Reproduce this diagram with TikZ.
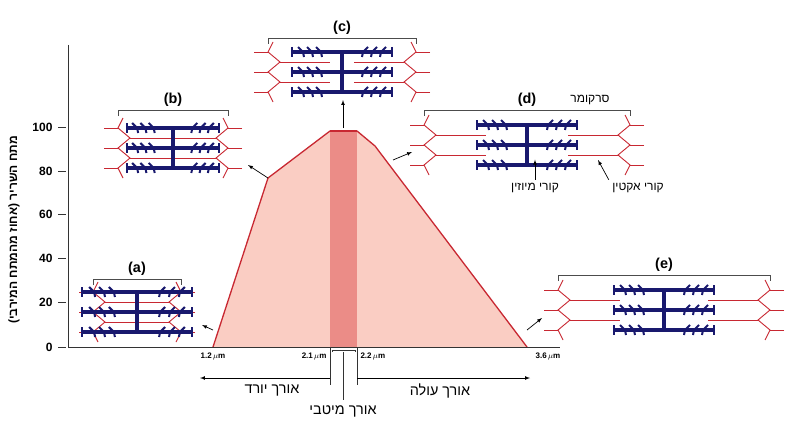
\documentclass[tikz,border=0pt]{standalone}
\usepackage{fontspec}
\setmainfont{Liberation Sans}
\newfontfamily\hebfont[Script=Hebrew]{Liberation Sans}
\TeXXeTstate=1
\definecolor{myosin}{RGB}{25,25,110}
\definecolor{actin}{RGB}{200,40,50}
\definecolor{fillpink}{RGB}{250,205,195}
\definecolor{bandpink}{RGB}{235,140,135}
\newcommand{\heb}[1]{{\hebfont\beginR #1\endR}}
% sarcomere: center x, center y, Z half-distance, myosin half-length, bracket y, label, name
\newcommand{\sarc}[7]{%
  % Z lines
  \draw[actinline] (#1-#3+5,#2-30) -- (#1-#3,#2-20) -- (#1-#3+12,#2-10) -- (#1-#3,#2) -- (#1-#3+12,#2+10) -- (#1-#3,#2+20) -- (#1-#3+5,#2+30);
  \draw[actinline] (#1+#3-5,#2-30) -- (#1+#3,#2-20) -- (#1+#3-12,#2-10) -- (#1+#3,#2) -- (#1+#3-12,#2+10) -- (#1+#3,#2+20) -- (#1+#3-5,#2+30);
  \foreach \dy in {-20,0,20}{
    \draw[actinline] (#1-#3-14,#2+\dy) -- (#1-#3,#2+\dy);
    \draw[actinline] (#1+#3+14,#2+\dy) -- (#1+#3,#2+\dy);
  }
  % actin
  \foreach \dy in {-10,10}{
    \draw[actinline] (#1-#3+12,#2+\dy) -- ++(50,0);
    \draw[actinline] (#1+#3-12,#2+\dy) -- ++(-50,0);
  }
  % myosin
  \foreach \dy in {-20,0,20}{
    \draw[thickfil] (#1-#4,#2+\dy) -- (#1+#4,#2+\dy);
    \draw[headfil] (#1-#4,#2+\dy-5) -- (#1-#4,#2+\dy+5) (#1+#4,#2+\dy-5) -- (#1+#4,#2+\dy+5);
    \foreach \k in {0.42,0.6,0.78}{
      \draw[headfil] (#1-\k*#4-5,#2+\dy-5) -- (#1-\k*#4,#2+\dy) -- (#1-\k*#4+1,#2+\dy+5);
      \draw[headfil] (#1+\k*#4+5,#2+\dy-5) -- (#1+\k*#4,#2+\dy) -- (#1+\k*#4-1,#2+\dy+5);
    }
  }
  \draw[thickfil] (#1,#2-20) -- (#1,#2+20);
  \draw[bracket] (#1-#3,#5+6) -- (#1-#3,#5) -- (#1+#3,#5) -- (#1+#3,#5+6);
  \node[tag] (#7) at (#1,#5-10) {#6};
}
\begin{document}
\begin{tikzpicture}[x=1pt,y=-1pt,
  actinline/.style={draw=actin,line width=0.9pt},
  thickfil/.style={draw=myosin,line width=3.4pt},
  headfil/.style={draw=myosin,line width=2pt},
  bracket/.style={draw=black!70,line width=0.6pt},
  tag/.style={font=\bfseries\Large},
  tick/.style={font=\bfseries\large,anchor=east},
  umlab/.style={font=\bfseries\footnotesize},
  hlab/.style={font=\large},
  pointer/.style={-latex,line width=0.7pt}]
\useasboundingbox (0,0) rectangle (799,428);
\fill[white] (0,0) rectangle (799,428);

% curve area
\filldraw[fill=fillpink,draw=actin,line width=1.3pt]
  (213,347) -- (268,178) -- (330,131) -- (357,131) -- (375,146) -- (527,347);
\fill[bandpink] (330,131) rectangle (357,347);
\draw[actin,line width=1.3pt] (330,131) -- (357,131);

% axes
\draw[black!80,line width=0.8pt] (68,45) -- (68,347) -- (560,347);
\foreach \v/\yy in {0/347,20/302,40/258,60/214,80/171,100/127}{
  \draw[black!80,line width=0.8pt] (58,\yy) -- (66,\yy);
  \node[tick] (t\v) at (56,\yy) {\v};
}
\node[rotate=90,font=\bfseries\large] (ylab) at (14,230) {\heb{מתח השריר (אחוז מהמתח המירבי)}};

% length labels
\node[umlab] (l12) at (213,356) {1.2\,$\mu$m};
\node[umlab,anchor=east] (l21) at (330,356) {2.1\,$\mu$m};
\node[umlab,anchor=west] (l22) at (357,356) {2.2\,$\mu$m};
\node[umlab] (l36) at (548,356) {3.6\,$\mu$m};
\draw[black!80] (330,347) -- (330,385) (357,347) -- (357,385);
\draw[black!80] (332,352) -- (332,350) -- (355,350) -- (355,352);
\draw[black!80] (343,352) -- (343,400);
\coordinate (dl) at (330,378);
\coordinate (dr) at (357,378);
\draw[pointer] (dl) -- (200,378);
\draw[pointer] (dr) -- (530,378);
\node[hlab,font=\Large] (down) at (272,391) {\heb{אורך יורד}};
\node[hlab,font=\Large] (up) at (440,391) {\heb{אורך עולה}};
\node[hlab,font=\Large] (opt) at (343,411) {\heb{אורך מיטבי}};

% sarcomeres
\sarc{137}{312}{44}{55}{279}{(a)}{sa}
\sarc{173}{148}{55}{46}{110}{(b)}{sb}
\sarc{342}{72}{74}{50}{38}{(c)}{sc}
\sarc{527}{145}{103}{50}{110}{(d)}{sd}
\sarc{664}{310}{106}{50}{275}{(e)}{se}
\node[hlab] (sarcname) at (590,100) {\heb{סרקומר}};

% pointers from curve
\draw[pointer] (213,330) -- (202,325);
\draw[pointer] (268,178) -- (248,165);
\draw[pointer] (343,128) -- (343,100);
\draw[pointer] (393,160) -- (412,152);
\draw[pointer] (527,330) -- (542,318);

% filament labels
\node[hlab] (myo) at (535,188) {\heb{קורי מיוזין}};
\node[hlab] (act) at (638,188) {\heb{קורי אקטין}};
\draw[pointer] (myo.north) -- ++(0,-20);
\draw[pointer] (act.north west) -- (598,160);
\end{tikzpicture}
\end{document}
